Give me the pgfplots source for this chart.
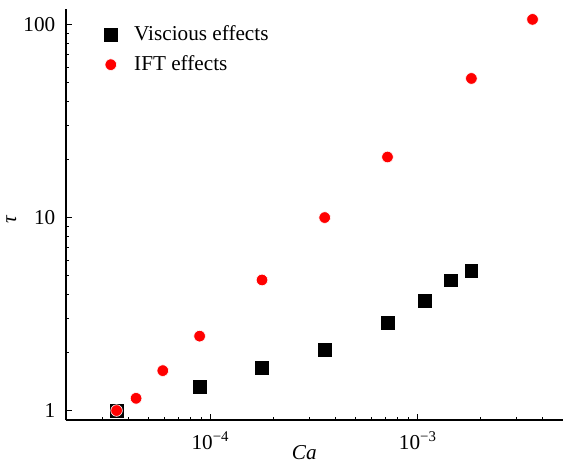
\documentclass[border=0pt]{standalone}
\usepackage{fontspec}
\setmainfont{Liberation Serif}
\usepackage{pgfplots}
\pgfplotsset{compat=1.18}

\begin{document}
\fontsize{10.6}{12.7}\selectfont
\begin{tikzpicture}
\begin{loglogaxis}[
  scale only axis,
  width=248.6pt, height=205.5pt,
  xmin=2e-5, xmax=5e-3,
  ymin=0.89, ymax=120,
  axis lines=left,
  axis line style={-, line width=0.9pt},
  tick style={black, line width=0.5pt},
  major tick length=3pt,
  minor tick length=1.6pt,
  tick align=inside,
  xtick={1e-4,1e-3},
  xticklabels={10\textsuperscript{−4}, 10\textsuperscript{−3}},
  minor xtick={3e-5,4e-5,5e-5,6e-5,7e-5,8e-5,9e-5,
               2e-4,3e-4,4e-4,5e-4,6e-4,7e-4,8e-4,9e-4,
               2e-3,3e-3,4e-3},
  ytick={1,10,100},
  yticklabels={1,10,100},
  minor ytick={2,3,4,5,6,7,8,9,20,30,40,50,60,70,80,90},
  xticklabel style={yshift=-2pt},
  yticklabel style={xshift=-1.5pt},
  xlabel={\textit{Ca}},
  ylabel={\textit{τ}},
  xlabel style={at={(axis description cs:0.48,0)}, anchor=north, yshift=-9pt},
  ylabel style={at={(axis description cs:0,0.49)}, anchor=south, yshift=21pt},
  legend style={draw=none, fill=none, at={(axis description cs:0.065,0.981)},
                anchor=north west, row sep=2pt, font=\fontsize{10.6}{12.7}\selectfont},
  legend cell align=left,
  clip=false,
]
% viscous contribution
\addplot[only marks, mark=square*, mark size=3.2pt, mark options={fill=black, draw=black}]
  coordinates {
    (3.52e-5, 1.00) (8.85e-5, 1.33) (1.77e-4, 1.67) (3.55e-4, 2.06)
    (7.13e-4, 2.84) (1.08e-3, 3.71) (1.44e-3, 4.73) (1.81e-3, 5.30)
  };
\addlegendentry{\hspace{6.5pt}Viscious effects}
% interfacial tension contribution
\addplot[only marks, mark=*, mark size=2.9pt, mark options={fill=red, draw=white, line width=0.3pt}]
  coordinates {
    (3.52e-5, 1.00) (4.37e-5, 1.157) (5.88e-5, 1.61) (8.85e-5, 2.43)
    (1.77e-4, 4.75) (3.55e-4, 10.0) (7.13e-4, 20.6) (1.81e-3, 52.6)
    (3.57e-3, 106.4)
  };
\addlegendentry{\hspace{6.5pt}IFT effects}
\end{loglogaxis}
\pgfresetboundingbox
\path (current axis.south west) ++(-32.85pt,-21.35pt) rectangle ++(281.5pt,231.5pt);
\end{tikzpicture}
\end{document}
